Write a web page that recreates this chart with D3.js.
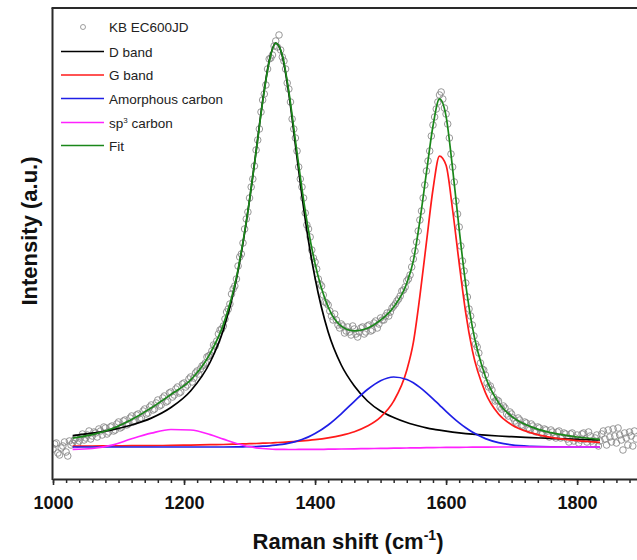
<!DOCTYPE html>
<html>
<head>
<meta charset="utf-8">
<script src="https://cdn.jsdelivr.net/npm/d3@7"></script>
<style>
	body { margin: 0; background: #fff; }
	text { font-family: Arial, "Liberation Sans", sans-serif; }
</style>
</head>
<body>
<div id="chartDiv"></div>
<script>
// measured spectrum, KB EC600JD (Raman shift in cm-1, intensity in a.u.)
var spectrumShift = [
	1000, 1002.5, 1005, 1007.5, 1010, 1012.5, 1015, 1017.5, 1020, 1022.5, 1025, 1027.5, 1030, 1032.5, 1035, 1037.5, 1040, 1042.5, 1045, 1047.5,
	1050, 1052.5, 1055, 1057.5, 1060, 1062.5, 1065, 1067.5, 1070, 1072.5, 1075, 1077.5, 1080, 1082.5, 1085, 1087.5, 1090, 1092.5, 1095, 1097.5,
	1100, 1102.5, 1105, 1107.5, 1110, 1112.5, 1115, 1117.5, 1120, 1122.5, 1125, 1127.5, 1130, 1132.5, 1135, 1137.5, 1140, 1142.5, 1145, 1147.5,
	1150, 1152.5, 1155, 1157.5, 1160, 1162.5, 1165, 1167.5, 1170, 1172.5, 1175, 1177.5, 1180, 1182.5, 1185, 1187.5, 1190, 1192.5, 1195, 1197.5,
	1200, 1202.5, 1205, 1207.5, 1210, 1212.5, 1215, 1217.5, 1220, 1222.5, 1225, 1227.5, 1230, 1232.5, 1235, 1237.5, 1240, 1242.5, 1245, 1247.5,
	1250, 1252.5, 1255, 1257.5, 1260, 1262.5, 1265, 1267.5, 1270, 1272.5, 1275, 1277.5, 1280, 1282.5, 1285, 1287.5, 1290, 1292.5, 1295, 1297.5,
	1300, 1302.5, 1305, 1307.5, 1310, 1312.5, 1315, 1317.5, 1320, 1322.5, 1325, 1327.5, 1330, 1332.5, 1335, 1337.5, 1340, 1342.5, 1345, 1347.5,
	1350, 1352.5, 1355, 1357.5, 1360, 1362.5, 1365, 1367.5, 1370, 1372.5, 1375, 1377.5, 1380, 1382.5, 1385, 1387.5, 1390, 1392.5, 1395, 1397.5,
	1400, 1402.5, 1405, 1407.5, 1410, 1412.5, 1415, 1417.5, 1420, 1422.5, 1425, 1427.5, 1430, 1432.5, 1435, 1437.5, 1440, 1442.5, 1445, 1447.5,
	1450, 1452.5, 1455, 1457.5, 1460, 1462.5, 1465, 1467.5, 1470, 1472.5, 1475, 1477.5, 1480, 1482.5, 1485, 1487.5, 1490, 1492.5, 1495, 1497.5,
	1500, 1502.5, 1505, 1507.5, 1510, 1512.5, 1515, 1517.5, 1520, 1522.5, 1525, 1527.5, 1530, 1532.5, 1535, 1537.5, 1540, 1542.5, 1545, 1547.5,
	1550, 1552.5, 1555, 1557.5, 1560, 1562.5, 1565, 1567.5, 1570, 1572.5, 1575, 1577.5, 1580, 1582.5, 1585, 1587.5, 1590, 1592.5, 1595, 1597.5,
	1600, 1602.5, 1605, 1607.5, 1610, 1612.5, 1615, 1617.5, 1620, 1622.5, 1625, 1627.5, 1630, 1632.5, 1635, 1637.5, 1640, 1642.5, 1645, 1647.5,
	1650, 1652.5, 1655, 1657.5, 1660, 1662.5, 1665, 1667.5, 1670, 1672.5, 1675, 1677.5, 1680, 1682.5, 1685, 1687.5, 1690, 1692.5, 1695, 1697.5,
	1700, 1702.5, 1705, 1707.5, 1710, 1712.5, 1715, 1717.5, 1720, 1722.5, 1725, 1727.5, 1730, 1732.5, 1735, 1737.5, 1740, 1742.5, 1745, 1747.5,
	1750, 1752.5, 1755, 1757.5, 1760, 1762.5, 1765, 1767.5, 1770, 1772.5, 1775, 1777.5, 1780, 1782.5, 1785, 1787.5, 1790, 1792.5, 1795, 1797.5,
	1800, 1802.5, 1805, 1807.5, 1810, 1812.5, 1815, 1817.5, 1820, 1822.5, 1825, 1827.5, 1830, 1832.5, 1835, 1837.5, 1840, 1842.5, 1845, 1847.5,
	1850, 1852.5, 1855, 1857.5, 1860, 1862.5, 1865, 1867.5, 1870, 1872.5, 1875, 1877.5, 1880, 1882.5, 1885, 1887.5, 1890
];
var spectrumIntensity = [
	-2, 3, 4, -6, -8, -1, 1, 5, -5, -9, 6, 2, 4, 7, 9, 3, 6, 10, 13, 7,
	9, 12, 16, 8, 11, 15, 14, 10, 18, 16, 12, 20, 19, 13, 15, 20, 21, 16, 17, 23,
	25, 19, 20, 26, 27, 22, 23, 29, 31, 25, 26, 32, 33, 28, 29, 36, 38, 33, 34, 40,
	42, 37, 38, 44, 47, 41, 42, 49, 51, 45, 46, 54, 55, 50, 52, 58, 60, 54, 55, 63,
	64, 60, 62, 68, 70, 65, 69, 74, 76, 73, 78, 81, 82, 84, 90, 91, 92, 96, 102, 101,
	106, 113, 117, 118, 121, 128, 135, 138, 143, 153, 158, 161, 168, 181, 190, 193, 204, 218, 228, 235,
	249, 260, 268, 281, 297, 307, 318, 335, 347, 353, 362, 378, 388, 389, 392, 401, 406, 400, 412, 397,
	390, 386, 378, 364, 358, 345, 328, 318, 309, 296, 280, 268, 260, 249, 234, 222, 218, 210, 197, 189,
	185, 178, 168, 163, 161, 152, 145, 144, 142, 136, 131, 127, 133, 127, 122, 119, 123, 121, 114, 116,
	120, 115, 112, 121, 118, 113, 110, 115, 119, 120, 113, 115, 121, 122, 116, 117, 124, 126, 119, 123,
	129, 127, 127, 131, 134, 131, 135, 139, 141, 143, 146, 148, 151, 156, 157, 160, 166, 168, 172, 180,
	188, 196, 205, 216, 227, 236, 249, 262, 276, 286, 296, 311, 322, 330, 338, 345, 352, 355, 348, 339,
	333, 323, 309, 293, 280, 265, 246, 233, 220, 201, 186, 176, 164, 150, 138, 131, 122, 111, 103, 100,
	94, 84, 78, 77, 72, 64, 60, 61, 57, 50, 46, 47, 46, 40, 38, 41, 39, 33, 31, 35,
	33, 29, 26, 24, 29, 27, 22, 21, 25, 24, 19, 17, 23, 21, 16, 15, 20, 19, 14, 13,
	18, 17, 12, 10, 17, 15, 11, 9, 15, 16, 9, 10, 14, 13, 8, 5, 13, 14, 6, 9,
	12, 4, 7, 13, 14, 8, 5, 15, 11, 6, 3, 9, 12, 1, 6, 13, 16, 8, 2, 17,
	10, 5, 18, 11, 4, 19, 12, 7, -3, 14, 9, 2, 15, 11, 1, 16, 8
];

// fitted components, sampled along fitShift
var fitShift = [
	1030, 1060, 1090, 1120, 1150, 1180, 1210, 1240, 1260, 1280,
	1290, 1300, 1310, 1320, 1330, 1340, 1350, 1360, 1370, 1380,
	1390, 1400, 1420, 1440, 1460, 1480, 1500, 1520, 1540, 1550,
	1560, 1570, 1580, 1590, 1600, 1610, 1620, 1630, 1640, 1660,
	1680, 1700, 1730, 1760, 1800, 1835
];
var dBand = [
	11.4, 13.9, 17.2, 22.0, 28.9, 39.5, 56, 85, 117, 168,
	204, 247, 296, 346, 386, 404, 391, 353, 302, 251,
	206, 169, 115, 82, 61, 46, 36, 29.5, 24.5, 22.5,
	20.7, 19.2, 17.9, 16.8, 15.8, 14.9, 14.1, 13.4, 12.8, 11.8,
	11.0, 10.3, 9.4, 8.6, 7.6, 7.0
];
var gBand = [
	0.9, 1.0, 1.1, 1.3, 1.4, 1.6, 1.9, 2.3, 2.5, 2.9,
	3.1, 3.3, 3.5, 3.8, 4.0, 4.4, 4.7, 5.1, 5.6, 6.1,
	6.7, 7.4, 9.2, 11.7, 15.3, 20.9, 29.9, 45.8, 76.8, 104.4,
	150.9, 204.6, 257.5, 290.9, 281.7, 237.0, 183.7, 134.1, 96.8, 54.4,
	33.0, 22.3, 14.1, 9.6, 6.4, 4.7
];
var amorphousCarbon = [
	0, 0, 0, 0, 0, 0, 0, 0, 0, 0.1,
	0.2, 0.3, 0.5, 0.8, 1.2, 1.8, 2.6, 3.8, 5.4, 7.5,
	10.1, 13.4, 22.0, 33.2, 45.7, 57.5, 66.3, 70.0, 67.5, 64.2,
	59.6, 54.2, 48.2, 41.9, 35.6, 29.6, 24.1, 19.2, 14.9, 8.4,
	4.4, 2.1, 0.6, 0.1, 0, 0
];
var sp3Carbon = [
	-2.4, -1.5, 1.8, 8.2, 13.8, 17.5, 17.0, 12.4, 7.9, 3.5,
	1.8, 0.3, -0.8, -1.5, -2.0, -2.3, -2.4, -2.5, -2.5, -2.4,
	-2.4, -2.4, -2.2, -2.0, -1.8, -1.6, -1.4, -1.2, -1.0, -0.9,
	-0.8, -0.7, -0.6, -0.5, -0.4, -0.35, -0.3, -0.25, -0.2, -0.1,
	0, 0, 0, 0, 0, 0
];
var fitTotal = [
	8.9, 12.3, 18.2, 27.5, 39.1, 52.6, 67, 93.7, 122.4, 169.5,
	205.1, 246.9, 295.2, 345.1, 385.2, 403.9, 391.9, 355.4, 306.5, 258.2,
	216.4, 183.4, 140, 120.9, 116.2, 118.8, 126.8, 140.1, 163.8, 186.2,
	226.4, 274.3, 321, 348.1, 330.7, 278.2, 217.6, 162.5, 120.3, 70.5,
	44.4, 30.7, 20.1, 14.3, 10, 7.7
];

var xTickValues = [1000, 1200, 1400, 1600, 1800];
var xDomain = [1000, 1896];
var yDomain = [-32, 439];

;(function() {

	var width = 637;
	var height = 560;
	var plot = { left: 53, top: 8, right: 640, bottom: 479 };

	var chart, xScale, yScale;

	init();

	function init() {
		chart = d3.select("#chartDiv").append("svg")
			.attr("width", width)
			.attr("height", height);

		xScale = d3.scaleLinear().domain(xDomain).range([plot.left, plot.right]);
		yScale = d3.scaleLinear().domain(yDomain).range([plot.bottom, plot.top]);

		chart.append("clipPath").attr("id", "plotClip")
			.append("rect")
			.attr("x", plot.left).attr("y", plot.top)
			.attr("width", plot.right - plot.left)
			.attr("height", plot.bottom - plot.top);

		drawScatter();
		drawCurves();
		drawFrame();
		drawLegend();
		drawTitles();
	}

	function drawScatter() {
		var pts = spectrumShift.map(function(s, i) { return { x: s, y: spectrumIntensity[i] }; });
		chart.append("g")
			.attr("clip-path", "url(#plotClip)")
			.selectAll("circle")
			.data(pts)
			.enter().append("circle")
				.attr("cx", function(d) { return xScale(d.x); })
				.attr("cy", function(d) { return yScale(d.y); })
				.attr("r", 3.3)
				.attr("fill", "none")
				.attr("stroke", "#858585")
				.attr("stroke-width", 0.85);
	}

	function drawCurves() {
		var series = [
			{ values: dBand, color: "#000000" },
			{ values: gBand, color: "#ff1a1a" },
			{ values: amorphousCarbon, color: "#1f1fe6" },
			{ values: sp3Carbon, color: "#ff22ff" },
			{ values: fitTotal, color: "#1a871a" }
		];

		var line = d3.line()
			.x(function(d) { return xScale(d[0]); })
			.y(function(d) { return yScale(d[1]); })
			.curve(d3.curveMonotoneX);

		var g = chart.append("g").attr("clip-path", "url(#plotClip)");
		series.forEach(function(s) {
			g.append("path")
				.datum(fitShift.map(function(x, i) { return [x, s.values[i]]; }))
				.attr("d", line)
				.attr("fill", "none")
				.attr("stroke", s.color)
				.attr("stroke-width", 1.7);
		});
	}

	function drawFrame() {
		// minor ticks every 20 cm-1
		var minorAxis = d3.axisBottom(xScale)
			.tickValues(d3.range(1000, 1900, 20))
			.tickSize(4)
			.tickFormat("");
		chart.append("g")
			.attr("transform", "translate(0," + plot.bottom + ")")
			.call(minorAxis)
			.call(function(g) { g.select(".domain").remove(); })
			.selectAll("line").attr("stroke", "#2a2a2a").attr("stroke-width", 1.5);

		var xAxis = d3.axisBottom(xScale)
			.tickValues(xTickValues)
			.tickSize(6)
			.tickSizeOuter(0)
			.tickPadding(11)
			.tickFormat(d3.format("d"));
		var ax = chart.append("g")
			.attr("transform", "translate(0," + plot.bottom + ")")
			.call(xAxis);
		ax.select(".domain").attr("stroke", "#2a2a2a").attr("stroke-width", 2);
		ax.selectAll("line").attr("stroke", "#2a2a2a").attr("stroke-width", 1.6);
		ax.selectAll("text")
			.attr("fill", "#111")
			.style("font-size", "18px")
			.style("font-weight", "bold")
			.style("font-family", "Arial, 'Liberation Sans', sans-serif");

		// left and top border
		chart.append("line")
			.attr("x1", plot.left - 0.5).attr("x2", plot.left - 0.5)
			.attr("y1", plot.top).attr("y2", plot.bottom + 1)
			.attr("stroke", "#2a2a2a").attr("stroke-width", 2);
		chart.append("line")
			.attr("x1", plot.left - 1.5).attr("x2", plot.right)
			.attr("y1", plot.top).attr("y2", plot.top)
			.attr("stroke", "#2a2a2a").attr("stroke-width", 2);
	}

	function drawLegend() {
		var items = [
			{ type: "circle", color: "#858585", label: ["KB EC600JD"] },
			{ type: "line", color: "#000000", label: ["D band"] },
			{ type: "line", color: "#ff1a1a", label: ["G band"] },
			{ type: "line", color: "#1f1fe6", label: ["Amorphous carbon"] },
			{ type: "line", color: "#ff22ff", label: ["sp", "3", " carbon"] },
			{ type: "line", color: "#1a871a", label: ["Fit"] }
		];
		var rowY = [27, 51.5, 75, 98.5, 122.5, 145.5];

		var leg = chart.append("g");
		items.forEach(function(it, i) {
			var y = rowY[i];
			if (it.type === "circle") {
				leg.append("circle")
					.attr("cx", 83).attr("cy", y).attr("r", 2.5)
					.attr("fill", "none").attr("stroke", it.color).attr("stroke-width", 0.8);
			} else {
				leg.append("line")
					.attr("x1", 61).attr("x2", 104)
					.attr("y1", y).attr("y2", y)
					.attr("stroke", it.color).attr("stroke-width", 1.7);
			}
			var t = leg.append("text")
				.attr("x", 109).attr("y", y + 5)
				.attr("fill", "#222")
				.style("font-size", "13.5px");
			t.append("tspan").text(it.label[0]);
			if (it.label.length > 1) {
				t.append("tspan").attr("dy", -5).style("font-size", "8px").text(it.label[1]);
				t.append("tspan").attr("dy", 5).text(it.label[2]);
			}
		});
	}

	function drawTitles() {
		var xt = chart.append("text")
			.attr("x", 348).attr("y", 549)
			.attr("text-anchor", "middle")
			.attr("fill", "#111")
			.style("font-size", "22px")
			.style("font-weight", "bold");
		xt.append("tspan").text("Raman shift (cm");
		xt.append("tspan").attr("dy", -9).style("font-size", "14px").text("-1");
		xt.append("tspan").attr("dy", 9).text(")");

		chart.append("text")
			.attr("transform", "translate(37,231) rotate(-90)")
			.attr("text-anchor", "middle")
			.attr("fill", "#111")
			.style("font-size", "22px")
			.style("font-weight", "bold")
			.text("Intensity (a.u.)");
	}
})();
</script>
</body>
</html>
